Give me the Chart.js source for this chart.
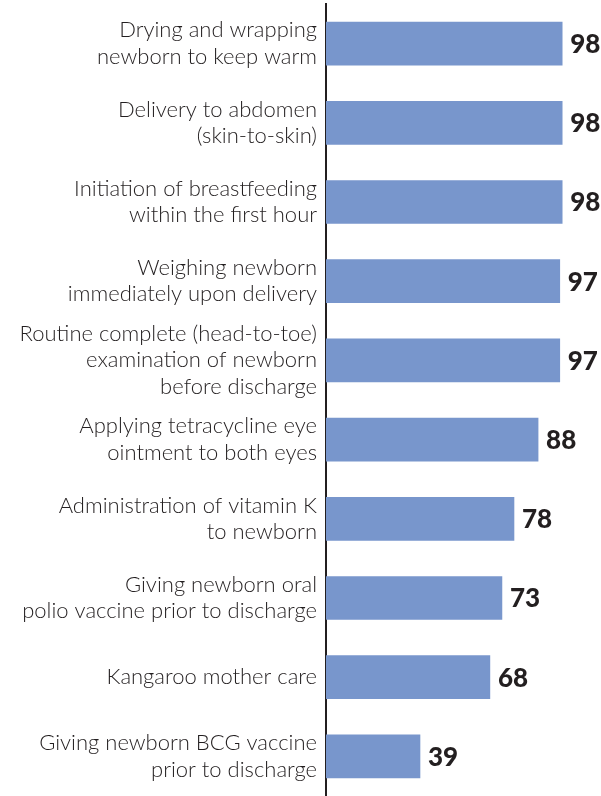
<!DOCTYPE html>
<html>
<head>
<meta charset="utf-8">
<script src="https://cdn.jsdelivr.net/npm/chart.js@4"></script>
<style>
  html, body { margin: 0; padding: 0; background: #fff; }
  #wrap { width: 601px; height: 796px; }
</style>
</head>
<body>
<div id="wrap"><canvas id="careChart"></canvas></div>
<script>
// Newborn care practices (%)
const practices = [
  ['Drying and wrapping', 'newborn to keep warm'],
  ['Delivery to abdomen', '(skin-to-skin)'],
  ['Initiation of breastfeeding', 'within the first hour'],
  ['Weighing newborn', 'immediately upon delivery'],
  ['Routine complete (head-to-toe)', 'examination of newborn', 'before discharge'],
  ['Applying tetracycline eye', 'ointment to both eyes'],
  ['Administration of vitamin K', 'to newborn'],
  ['Giving newborn oral', 'polio vaccine prior to discharge'],
  ['Kangaroo mother care'],
  ['Giving newborn BCG vaccine', 'prior to discharge']
];
const percents = [98, 98, 98, 97, 97, 88, 78, 73, 68, 39];

const textColor = '#231f20';
const barColor = '#7896cc';

// draw the value next to each bar
const valueLabels = {
  id: 'valueLabels',
  afterDatasetsDraw(chart) {
    const ctx = chart.ctx;
    const meta = chart.getDatasetMeta(0);
    ctx.save();
    ctx.font = '900 26px Lato';
    ctx.fillStyle = textColor;
    ctx.textBaseline = 'middle';
    meta.data.forEach((bar, i) => {
      ctx.fillText(percents[i], bar.x + 8, bar.y + 1);
    });
    ctx.restore();
  }
};

const ctx = document.getElementById('careChart').getContext('2d');
new Chart(ctx, {
  type: 'bar',
  data: {
    labels: practices,
    datasets: [{
      data: percents,
      backgroundColor: barColor,
      barThickness: 43
    }]
  },
  options: {
    indexAxis: 'y',
    responsive: true,
    maintainAspectRatio: false,
    animation: false,
    layout: { padding: { top: 4, right: 34, bottom: 0, left: 0 } },
    plugins: {
      legend: { display: false },
      tooltip: { enabled: false }
    },
    scales: {
      x: {
        display: false,
        min: 0,
        max: 100
      },
      y: {
        afterFit(scale) {
          scale.width = 326;
          scale.paddingTop = 0;
          scale.paddingBottom = 0;
        },
        grid: { display: false, drawTicks: false },
        border: { display: true, color: textColor, width: 2 },
        ticks: {
          autoSkip: false,
          color: textColor,
          padding: 9,
          font: { family: 'Lato', size: 22, weight: '300', lineHeight: 1.2 }
        }
      }
    }
  },
  plugins: [valueLabels]
});
</script>
</body>
</html>
